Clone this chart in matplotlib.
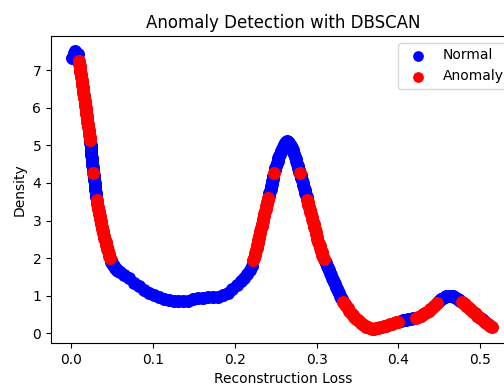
import numpy as np
import matplotlib
matplotlib.use("Agg")
import matplotlib.pyplot as plt

# reconstruction loss / estimated density in pieces

# first peak and its steep fall
loss_a = [
    0.001, 0.003, 0.005, 0.008,
    .0094, .0099, .0103, .0108, .0112, .0117, .0121, .0126, .0130, .0135,
    .0139, .0144, .0148, .0153, .0157, .0162, .0166, .0171, .0175, .0180,
    .0184, .0189, .0193, .0198, .0202, .0207, .0211, .0216, .0220, .0225,
    .0229,
    .0232, .0235, .0238, .0241, .0244, .0247, .0250, .0252, .0255, .0258,
    .0260, .0263, .0266,
    .0269,
    .0273, .0277, .0280, .0284, .0288, .0292, .0296, .0300, .0303, .0306,
    .0311, .0315, .0320, .0325, .0330, .0336, .0342, .0348, .0354, .0360,
    .0366, .0372, .0378, .0385, .0391, .0398, .0405, .0412, .0420, .0428,
    .0435, .0442, .0450, .0457, .0465, .0473,
    .0481, .0490, .0500, .0510, .0522, .0535, .0547, .0560, .0575, .0590,
]
density_a = [
    7.33, 7.45, 7.50, 7.42,
    7.24, 7.17, 7.10, 7.03, 6.96, 6.89, 6.82, 6.75, 6.68, 6.61,
    6.54, 6.47, 6.40, 6.33, 6.26, 6.19, 6.12, 6.05, 5.98, 5.91,
    5.84, 5.77, 5.70, 5.63, 5.56, 5.49, 5.42, 5.35, 5.28, 5.21,
    5.14,
    5.07, 5.00, 4.93, 4.87, 4.80, 4.74, 4.67, 4.61, 4.54, 4.48,
    4.42, 4.37, 4.32,
    4.26,
    4.20, 4.13, 4.07, 4.00, 3.94, 3.87, 3.81, 3.74, 3.68, 3.62,
    3.55, 3.50, 3.44, 3.37, 3.30, 3.24, 3.17, 3.11, 3.04, 2.98,
    2.91, 2.84, 2.78, 2.72, 2.66, 2.60, 2.54, 2.48, 2.42, 2.36,
    2.30, 2.24, 2.18, 2.12, 2.06, 2.00,
    1.95, 1.90, 1.86, 1.82, 1.78, 1.75, 1.72, 1.69, 1.66, 1.64,
]

# valley between the peaks
loss_b = [
    0.065, 0.071, 0.077, 0.083, 0.089, 0.095, 0.101, 0.107, 0.113,
    0.119, 0.125, 0.131, 0.137, 0.143, 0.149, 0.155, 0.161, 0.167,
    0.173, 0.179, 0.185, 0.191, 0.197, 0.202, 0.207, 0.211, 0.215,
    0.218, 0.2206,
]
density_b = [
    1.55, 1.46, 1.35, 1.25, 1.16, 1.08, 1.01, 0.96, 0.92,
    0.89, 0.87, 0.86, 0.86, 0.87, 0.90, 0.93, 0.95, 0.96,
    0.96, 0.97, 1.01, 1.08, 1.18, 1.28, 1.38, 1.48, 1.58,
    1.68, 1.78,
]

# second peak
loss_c = [
    .2225, .2234, .2243, .2252, .2260, .2268, .2275, .2282, .2288, .2294,
    .2300, .2307, .2313, .2320, .2326, .2333, .2340, .2347, .2354, .2361,
    .2369, .2376, .2384, .2391, .2398, .2403, .2408,
    .2415, .2422, .2430, .2437, .2445, .2452, .2459, .2465, .2472,
    .2478,
    .2486, .2494, .2503, .2512, .2522, .2532, .2544, .2556, .2568, .2580,
    .2590, .2600, .2609, .2618, .2627, .2635, .2645, .2655, .2665, .2675,
    .2685, .2695, .2705, .2715, .2725, .2735, .2744, .2752, .2760, .2768,
    .2775, .2782, .2789,
    .2796,
    .2804, .2812, .2820, .2829, .2838, .2846, .2854, .2862, .2870, .2877,
    .2885, .2893, .2900, .2908, .2915, .2923, .2931, .2939, .2947, .2955,
    .2963, .2970, .2978, .2986, .2994, .3002, .3010, .3018, .3027, .3036,
    .3045, .3053, .3062, .3071, .3080,
    .3090, .3100, .3112, .3124, .3137, .3150, .3163, .3176, .3190, .3203,
    .3215, .3228, .3240, .3253, .3265, .3278, .3290, .3302, .3313,
]
density_c = [
    1.95, 2.01, 2.08, 2.14, 2.21, 2.27, 2.34, 2.40, 2.47, 2.53,
    2.60, 2.66, 2.73, 2.79, 2.86, 2.92, 2.99, 3.05, 3.12, 3.18,
    3.25, 3.31, 3.38, 3.44, 3.50, 3.55, 3.59,
    3.66, 3.72, 3.79, 3.85, 3.92, 3.98, 4.05, 4.11, 4.19,
    4.26,
    4.33, 4.39, 4.46, 4.52, 4.59, 4.65, 4.72, 4.78, 4.84, 4.90,
    4.95, 5.00, 5.04, 5.07, 5.10, 5.11, 5.10, 5.08, 5.05, 5.01,
    4.97, 4.92, 4.87, 4.82, 4.76, 4.70, 4.64, 4.57, 4.50, 4.44,
    4.39, 4.35, 4.30,
    4.26,
    4.20, 4.13, 4.07, 4.00, 3.94, 3.87, 3.81, 3.74, 3.68, 3.62,
    3.55, 3.48, 3.42, 3.35, 3.29, 3.22, 3.16, 3.09, 3.03, 2.96,
    2.90, 2.83, 2.77, 2.70, 2.64, 2.57, 2.51, 2.44, 2.38, 2.32,
    2.26, 2.20, 2.15, 2.09, 2.04,
    1.98, 1.92, 1.86, 1.80, 1.74, 1.68, 1.61, 1.55, 1.48, 1.42,
    1.36, 1.30, 1.24, 1.18, 1.12, 1.06, 1.00, 0.95, 0.90,
]

# low tail with the small third bump
loss_d = [
    .3325, .3342, .3360, .3380, .3400, .3420, .3440, .3460, .3480, .3500,
    .3525, .3550, .3575, .3600, .3625, .3650, .3675, .3700, .3725, .3750,
    .3775, .3800, .3825, .3850, .3875, .3900, .3925, .3950, .3975, .4000,
    .4030, .4060, .4090, .4120, .4150,
    .4180, .4210, .4240, .4270, .4300, .4323, .4345, .4368, .4390, .4410,
    .4430, .4450, .4467,
    .4486, .4505, .4525, .4545, .4565, .4585, .4605, .4625, .4645, .4665,
    .4685, .4705, .4723, .4740,
    .4757, .4773, .4792, .4810, .4830, .4850, .4870, .4890, .4910, .4930,
    .4948, .4965, .4983, .5000,
    .5020, .5040,
    .5058, .5075, .5093, .5110, .5125, .5140,
]
density_d = [
    0.84, 0.78, 0.72, 0.66, 0.60, 0.54, 0.49, 0.44, 0.39, 0.35,
    0.30, 0.26, 0.22, 0.18, 0.155, 0.135, 0.125, 0.12, 0.13, 0.14,
    0.155, 0.17, 0.185, 0.20, 0.22, 0.24, 0.26, 0.28, 0.295, 0.31,
    0.33, 0.35, 0.365, 0.38, 0.39,
    0.40, 0.42, 0.44, 0.47, 0.51, 0.54, 0.57, 0.60, 0.64, 0.68,
    0.72, 0.76, 0.80,
    0.84, 0.88, 0.91, 0.94, 0.96, 0.98, 0.99, 1.00, 1.00, 0.99,
    0.97, 0.95, 0.92, 0.89,
    0.87, 0.84, 0.80, 0.77, 0.73, 0.69, 0.65, 0.61, 0.57, 0.53,
    0.50, 0.47, 0.44, 0.41,
    0.375, 0.34,
    0.31, 0.28, 0.25, 0.22, 0.20, 0.18,
]

# loss intervals that DBSCAN flagged as anomalies
anomaly_ranges = [
    (0.009, 0.023), (0.0268, 0.0270), (0.031, 0.048),
    (0.222, 0.241), (0.2477, 0.2479), (0.2795, 0.2797),
    (0.288, 0.309), (0.332, 0.401), (0.419, 0.447),
    (0.477, 0.501), (0.5055, 0.52),
]

loss = np.concatenate([loss_a, loss_b, loss_c, loss_d])
density = np.concatenate([density_a, density_b, density_c, density_d])
is_anomaly = np.zeros(len(loss), dtype=bool)
for lo, hi in anomaly_ranges:
    is_anomaly |= (loss >= lo) & (loss <= hi)

fig = plt.figure(figsize=(5.04, 3.85), dpi=100)
ax = fig.add_axes([51 / 504, 42 / 385, 465 / 504, 307 / 385])

ax.scatter(loss[~is_anomaly], density[~is_anomaly], color='blue', s=70, label='Normal')
ax.scatter(loss[is_anomaly], density[is_anomaly], color='red', s=70, label='Anomaly')

ax.set_xlim(-0.0248, 0.5437)
ax.set_ylim(-0.258, 7.907)
ax.set_xlabel('Reconstruction Loss')
ax.set_ylabel('Density')
ax.set_title('Anomaly Detection with DBSCAN')
ax.legend(loc='upper right', markerscale=0.8)

fig.savefig('out.png', dpi=100)
